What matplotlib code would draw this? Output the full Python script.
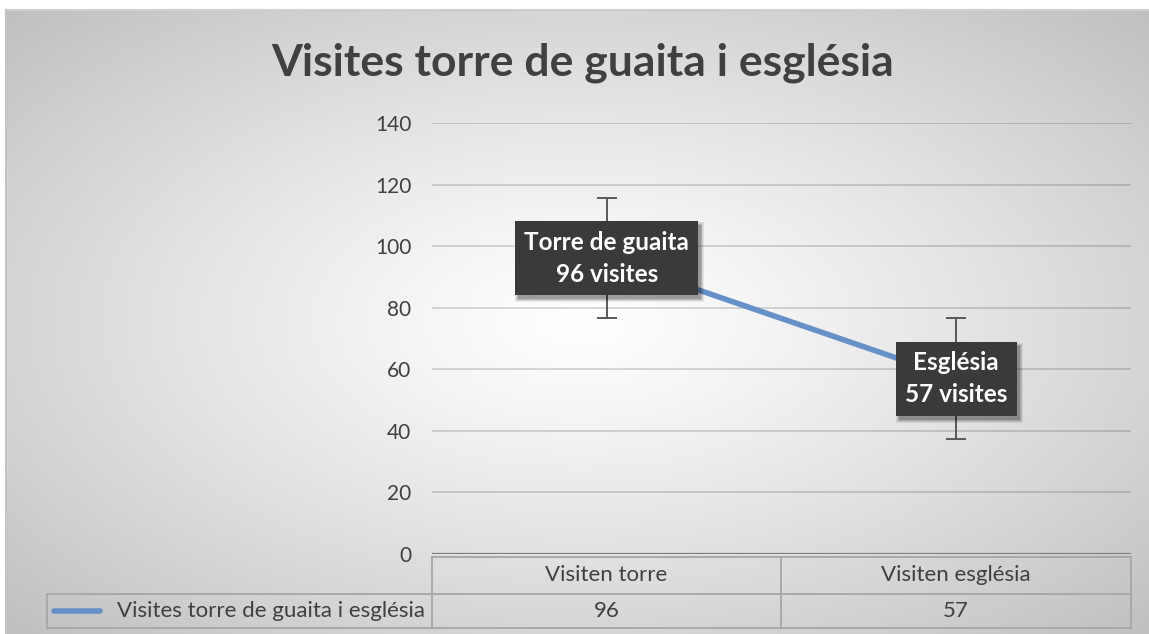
import numpy as np
import matplotlib
matplotlib.use("Agg")
import matplotlib.pyplot as plt
from matplotlib.patches import Rectangle

# ---- data ----
categories = ["Visiten torre", "Visiten església"]
values = [96, 57]
errors = [19.5, 19.5]
series_name = "Visites torre de guaita i església"
label_names = ["Torre de guaita", "Església"]
title = "Visites torre de guaita i església"
yticks = [0, 20, 40, 60, 80, 100, 120, 140]

W, H = 1149, 634
FONT = "Lato"
plt.rcParams["font.family"] = [FONT, "DejaVu Sans"]
plt.rcParams["hatch.linewidth"] = 1.0

fig = plt.figure(figsize=(W / 100, H / 100), dpi=100)
fig.patch.set_facecolor("white")

# background radial gradient
bx0, by0 = 6, 10
bg = fig.add_axes([bx0 / W, 0, 1 - bx0 / W, 1 - by0 / H], zorder=-10)
bw, bh = W - bx0, H - by0
yy, xx = np.mgrid[0:bh:2, 0:bw:2]
cx, cy = 580 - bx0, 320 - by0
r = np.sqrt(((xx - cx) / (bw / 2)) ** 2 + ((yy - cy) / (bh / 2)) ** 2) / np.sqrt(2)
g = 1.0 - 0.25 * np.clip(r, 0, 1.1) ** 1.2
bg.imshow(np.dstack([g, g, g]), aspect="auto", extent=[0, 1, 0, 1], interpolation="bilinear")
bg.set_axis_off()
fig.add_artist(plt.Line2D([bx0 / W, 1], [1 - by0 / H, 1 - by0 / H], color="#cfcfcf",
                          linewidth=1.5, transform=fig.transFigure))
fig.add_artist(plt.Line2D([bx0 / W, bx0 / W], [0, 1 - by0 / H], color="#c4c4c4",
                          linewidth=1.5, transform=fig.transFigure))

# main axes
x0, x1 = 432 / W, 1131 / W
y0, y1 = 1 - 554 / H, 1 - 123 / H
ax = fig.add_axes([x0, y0, x1 - x0, y1 - y0])
ax.patch.set_alpha(0)
xs = np.arange(len(categories))
ax.set_xlim(-0.5, len(categories) - 0.5)
ax.set_ylim(0, 140)
ax.set_yticks(yticks)
ax.set_yticklabels([str(t) for t in yticks], fontsize=15, color="#404040")
ax.tick_params(axis="y", length=0, pad=15)
ax.set_xticks([])
for s in ax.spines.values():
    s.set_visible(False)
ax.grid(axis="y", color="black", alpha=0.16, linewidth=1.3)
ax.set_axisbelow(True)
ax.axhline(0, color="#7f7f7f", linewidth=1.6, zorder=2)

ax.plot(xs, values, color="#6690c8", linewidth=4, solid_capstyle="round", zorder=3)
ax.errorbar(xs, values, yerr=errors, fmt="none", ecolor="#595959", elinewidth=1.4,
            capsize=7, capthick=1.4, zorder=2.5)

# data labels
label_texts = []
for xi, v, nm in zip(xs, values, label_names):
    t = ax.text(xi, v, f"{nm}\n{v} visites", ha="center", va="center", fontsize=17.5,
                fontweight="bold", linespacing=1.5, color="white", zorder=6,
                bbox=dict(boxstyle="square,pad=0.38", facecolor="#3a3a3a",
                          edgecolor="none"))
    label_texts.append(t)

fig.canvas.draw()
renderer = fig.canvas.get_renderer()
inv = fig.transFigure.inverted()
for t in label_texts:
    ext = t.get_bbox_patch().get_window_extent(renderer)
    (fx0, fy0), (fx1, fy1) = inv.transform([[ext.x0, ext.y0], [ext.x1, ext.y1]])
    w, h = fx1 - fx0, fy1 - fy0
    # soft shadow (below the label, above the line)
    for k, a in [(3, 0.07), (2, 0.09), (1, 0.12), (0, 0.16)]:
        dx, dy = 3 / W, -4 / H
        grow_x, grow_y = k / W, k / H
        ax.add_patch(Rectangle((fx0 + dx - grow_x, fy0 + dy - grow_y),
                               w + 2 * grow_x, h + 2 * grow_y,
                               transform=fig.transFigure, facecolor="black",
                               edgecolor="none", alpha=a, zorder=4.5, clip_on=False))
    # dotted texture on the box, under the text
    ax.add_patch(Rectangle((fx0, fy0), w, h, transform=fig.transFigure,
                           facecolor="#3a3a3a", edgecolor="#4c4c4c", linewidth=0,
                           hatch="..", zorder=5.5, clip_on=False))

# title
fig.text(583 / W, 1 - 63 / H, title, ha="center", va="center", fontsize=32,
         fontweight="bold", color="#404040")

# data table (figure pixel coordinates converted)
def fx(px):
    return px / W

def fy(py):
    return 1 - py / H

tcol = "#a6a6a6"
col_edges = [432, 781, 1131]
lc = dict(color=tcol, linewidth=1.3, transform=fig.transFigure, zorder=4)
fig.add_artist(plt.Line2D([fx(432), fx(1131)], [fy(557), fy(557)], **lc))
fig.add_artist(plt.Line2D([fx(47), fx(1131)], [fy(594), fy(594)], **lc))
fig.add_artist(plt.Line2D([fx(47), fx(1131)], [fy(628), fy(628)], **lc))
for cx_ in col_edges:
    fig.add_artist(plt.Line2D([fx(cx_), fx(cx_)], [fy(557), fy(628)], **lc))
fig.add_artist(plt.Line2D([fx(47), fx(47)], [fy(594), fy(628)], **lc))

for i, (c, v) in enumerate(zip(categories, values)):
    xc = (col_edges[i] + col_edges[i + 1]) / 2
    fig.text(fx(xc), fy(575), c, ha="center", va="center", fontsize=16, color="#404040")
    fig.text(fx(xc), fy(611), str(v), ha="center", va="center", fontsize=16, color="#404040")

fig.add_artist(plt.Line2D([fx(54), fx(100)], [fy(611), fy(611)], color="#6690c8",
                          linewidth=4, solid_capstyle="round", transform=fig.transFigure))
fig.text(fx(117), fy(611), series_name, ha="left", va="center", fontsize=16, color="#404040")

fig.savefig("out.png", dpi=100)
